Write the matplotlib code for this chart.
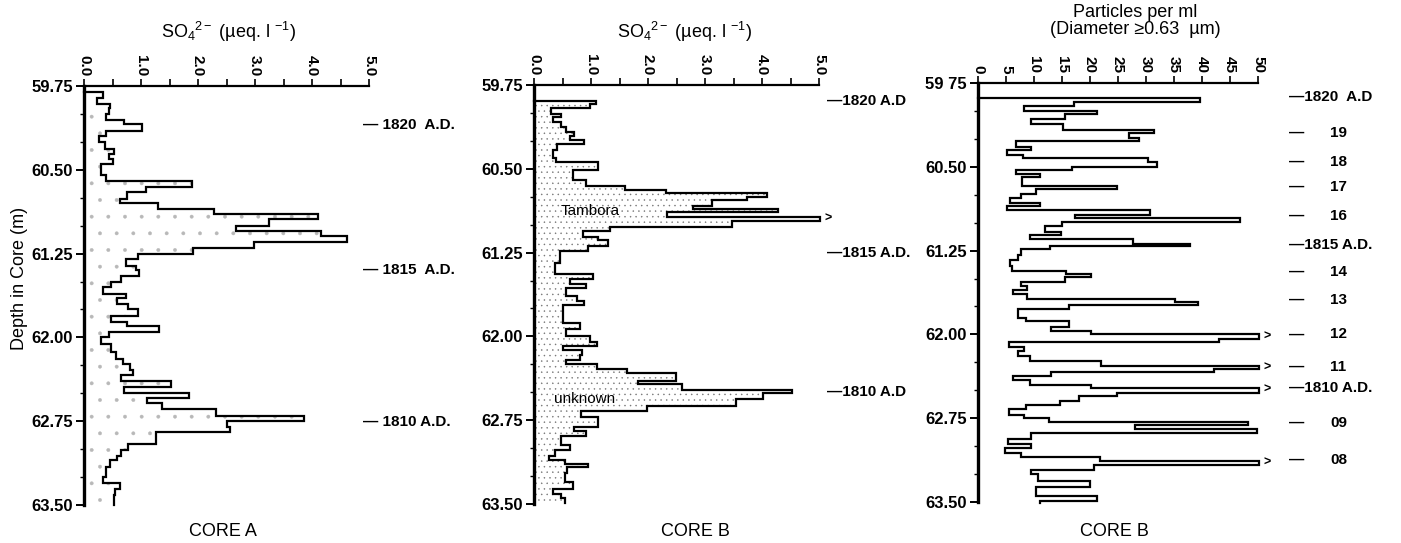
import numpy as np
import matplotlib
matplotlib.use("Agg")
import matplotlib.pyplot as plt
from matplotlib.ticker import FixedLocator, MultipleLocator

plt.rcParams["font.family"] = ["Liberation Sans", "DejaVu Sans"]
plt.rcParams["mathtext.fontset"] = "custom"
plt.rcParams["mathtext.rm"] = "Liberation Sans"
plt.rcParams["mathtext.it"] = "Liberation Sans:italic"
plt.rcParams["mathtext.bf"] = "Liberation Sans:bold"
plt.rcParams["hatch.linewidth"] = 0.3

# ---- Core A, sulphate (ueq/l): depth edges (m) and one value per interval
edges_A = [59.80, 59.86, 59.91, 59.95, 60.00, 60.05, 60.09, 60.15, 60.20, 60.25,
           60.31, 60.36, 60.40, 60.45, 60.55, 60.60, 60.65, 60.70, 60.76, 60.80,
           60.85, 60.90, 60.94, 61.00, 61.05, 61.09, 61.15, 61.20, 61.25, 61.30,
           61.36, 61.40, 61.45, 61.50, 61.55, 61.61, 61.65, 61.70, 61.75, 61.81,
           61.86, 61.90, 61.95, 62.00, 62.06, 62.13, 62.19, 62.24, 62.29, 62.34,
           62.39, 62.44, 62.50, 62.54, 62.59, 62.64, 62.70, 62.75, 62.80, 62.85,
           62.95, 63.01, 63.06, 63.10, 63.16, 63.25, 63.30, 63.36, 63.41, 63.46,
           63.50]
so4_A = [0.33, 0.23, 0.46, 0.43, 0.39, 0.70, 1.02, 0.39, 0.26, 0.36,
         0.53, 0.44, 0.51, 0.30, 0.39, 1.90, 1.08, 0.76, 0.63, 1.30,
         2.28, 4.11, 3.25, 2.66, 4.15, 4.62, 2.98, 1.92, 0.94, 0.73,
         0.92, 0.96, 0.65, 0.47, 0.33, 0.73, 0.58, 0.78, 0.95, 0.48,
         0.76, 1.31, 0.43, 0.30, 0.48, 0.57, 0.68, 0.80, 0.86, 0.65,
         1.52, 0.70, 1.85, 1.11, 1.37, 2.31, 3.86, 2.50, 2.57, 1.27,
         0.77, 0.65, 0.58, 0.45, 0.39, 0.33, 0.63, 0.54, 0.53, 0.53]

# ---- Core B, sulphate (ueq/l); 5.10 = beyond the 5.0 scale
edges_B = [59.89, 59.92, 59.96, 60.01, 60.04, 60.08, 60.13, 60.17, 60.21, 60.24,
           60.28, 60.33, 60.40, 60.44, 60.51, 60.60, 60.65, 60.69, 60.72, 60.75,
           60.78, 60.83, 60.86, 60.89, 60.93, 60.97, 61.02, 61.06, 61.11, 61.14,
           61.19, 61.24, 61.34, 61.44, 61.49, 61.53, 61.57, 61.64, 61.68, 61.72,
           61.88, 61.93, 62.00, 62.05, 62.09, 62.12, 62.17, 62.21, 62.25, 62.29,
           62.33, 62.40, 62.43, 62.48, 62.51, 62.56, 62.62, 62.67, 62.72, 62.81,
           62.85, 62.89, 62.97, 63.02, 63.07, 63.11, 63.14, 63.17, 63.22, 63.30,
           63.37, 63.41, 63.45, 63.49]
so4_B = [1.09, 0.98, 0.30, 0.48, 0.33, 0.48, 0.56, 0.70, 0.64, 0.88,
         0.41, 0.33, 0.39, 1.12, 0.68, 0.92, 1.59, 2.31, 4.08, 3.73,
         3.13, 2.79, 4.28, 2.34, 5.10, 3.47, 1.33, 0.86, 1.13, 1.29,
         0.95, 0.45, 0.36, 1.04, 0.63, 0.92, 0.57, 0.75, 0.87, 0.51,
         0.81, 0.57, 0.98, 1.10, 0.50, 0.84, 0.80, 0.57, 1.10, 1.63,
         2.49, 1.83, 2.59, 4.53, 4.01, 3.54, 1.98, 0.82, 1.12, 0.71,
         0.92, 0.48, 0.63, 0.36, 0.27, 0.55, 0.95, 0.58, 0.55, 0.68,
         0.33, 0.48, 0.54]

# ---- Core B, particles per ml (d >= 0.63 um); 51 = beyond the 50 scale
edges_C = [59.88, 59.92, 59.96, 60.00, 60.03, 60.07, 60.12, 60.17, 60.20, 60.24,
           60.27, 60.32, 60.35, 60.39, 60.42, 60.46, 60.50, 60.53, 60.56, 60.59,
           60.67, 60.70, 60.74, 60.78, 60.82, 60.85, 60.89, 60.93, 60.96, 60.99,
           61.03, 61.08, 61.11, 61.15, 61.19, 61.21, 61.24, 61.29, 61.33, 61.39,
           61.43, 61.46, 61.49, 61.53, 61.57, 61.60, 61.64, 61.68, 61.71, 61.74,
           61.77, 61.85, 61.88, 61.93, 61.97, 62.00, 62.04, 62.07, 62.11, 62.15,
           62.19, 62.24, 62.28, 62.31, 62.34, 62.37, 62.41, 62.45, 62.48, 62.52,
           62.55, 62.60, 62.63, 62.67, 62.72, 62.75, 62.78, 62.81, 62.85, 62.88,
           62.94, 62.98, 63.02, 63.06, 63.10, 63.13, 63.17, 63.21, 63.25, 63.31,
           63.37, 63.45, 63.49, 63.51]
part_C = [39.6, 17.2, 8.2, 21.3, 15.6, 9.4, 15.2, 31.4, 26.9, 28.8,
          6.7, 9.5, 5.1, 8.0, 30.3, 31.9, 16.8, 6.7, 11.1, 7.9,
          24.9, 10.3, 7.6, 5.8, 11.0, 5.2, 30.8, 17.3, 46.8, 15.0,
          11.9, 14.9, 9.2, 27.7, 37.8, 12.9, 7.7, 7.1, 5.8, 6.1,
          15.8, 20.2, 15.5, 7.6, 8.8, 6.2, 8.8, 35.2, 39.3, 16.2,
          7.1, 8.5, 16.2, 13.1, 20.1, 51.0, 43.0, 5.6, 8.3, 7.1,
          9.2, 22.0, 51.0, 42.1, 13.1, 6.2, 9.2, 20.1, 51.0, 24.9,
          18.0, 14.6, 8.6, 5.5, 8.3, 12.6, 48.3, 28.0, 49.9, 9.4,
          5.4, 9.5, 4.9, 7.7, 21.7, 51.0, 20.7, 9.5, 10.7, 20.0,
          10.4, 21.2, 11.1]

depth_ticks = [59.75, 60.50, 61.25, 62.00, 62.75, 63.50]
depth_labels = ["59.75", "60.50", "61.25", "62.00", "62.75", "63.50"]
depth_labels_C = ["59 75", "60.50", "61.25", "62.00", "62.75", "63.50"]

dates_A_depth = [60.10, 61.40, 62.76]
dates_A_text = ["\u2014 1820  A.D.", "\u2014 1815  A.D.", "\u2014 1810 A.D."]
dates_B_depth = [59.89, 61.25, 62.50]
dates_B_text = ["\u20141820 A.D", "\u20141815 A.D.", "\u20141810 A.D"]
dates_C_depth = [59.875, 60.197, 60.457, 60.68, 60.94, 61.20, 61.44,
                 61.69, 62.00, 62.29, 62.48, 62.79, 63.12]
dates_C_text = ["1820  A.D", "19", "18", "17", "16", "1815 A.D.", "14",
                "13", "12", "11", "1810 A.D.", "09", "08"]

W, H = 1401, 543
fig = plt.figure(figsize=(W / 100, H / 100), dpi=100)


def px_axes(x0, x1, y0, y1):
    return fig.add_axes([x0 / W, 1 - y1 / H, (x1 - x0) / W, (y1 - y0) / H])


def style(ax, xmax, step, labelled, ylabels):
    ax.set_xlim(0, xmax)
    ax.set_ylim(63.50, 59.75)
    ax.xaxis.tick_top()
    for s in ("right", "bottom"):
        ax.spines[s].set_visible(False)
    ax.spines["left"].set_linewidth(2.4)
    ax.spines["top"].set_linewidth(1.6)
    ticks = np.arange(0, xmax + step / 2, step)
    ax.xaxis.set_major_locator(FixedLocator(ticks))
    ax.set_xticklabels([labelled(t) for t in ticks])
    ax.tick_params(axis="x", labelrotation=270, length=5, width=1.2,
                   direction="out", pad=2, labelsize=11)
    for lab in ax.get_xticklabels():
        lab.set_fontweight("bold")
    ax.yaxis.set_major_locator(FixedLocator(depth_ticks))
    ax.yaxis.set_minor_locator(MultipleLocator(0.25))
    ax.set_yticklabels(ylabels)
    ax.tick_params(axis="y", which="major", length=6, width=1.4, pad=2,
                   labelsize=12)
    ax.tick_params(axis="y", which="minor", length=3, width=1.0)
    for lab in ax.get_yticklabels():
        lab.set_fontweight("bold")


def profile(ax, edges, values, xmax, hatch=None, hatch_color="0.4"):
    edges = np.asarray(edges, float)
    values = np.asarray(values, float)
    shown = np.minimum(values, xmax * 1.005)
    y = np.concatenate([[edges[0]], np.column_stack([edges[:-1], edges[1:]]).ravel()])
    x = np.concatenate([[0.0], np.repeat(shown, 2)])
    if hatch:
        ax.fill_betweenx(y, 0, x, facecolor="none", edgecolor=hatch_color,
                         hatch=hatch, linewidth=0)
    ax.plot(x, y, color="black", lw=1.6, clip_on=False, solid_joinstyle="miter")
    mids = (edges[:-1] + edges[1:]) / 2
    for v, m in zip(values, mids):
        if v > xmax:
            ax.text(xmax * 1.018, m, ">", va="center", ha="left",
                    fontsize=9, fontweight="bold", clip_on=False)


def dates(ax, depths, texts, x):
    tr = ax.get_yaxis_transform()
    for d, t in zip(depths, texts):
        ax.text(x, d, t, transform=tr, va="center", ha="left",
                fontsize=11, fontweight="bold", clip_on=False)


so4_title = "SO$_4$$^{2-}$ (\u00b5eq. l $^{-1}$)"

# Panel A
axA = px_axes(84, 369, 86, 505)
style(axA, 5.0, 0.5, lambda t: f"{t:.1f}" if abs(t - round(t)) < 1e-6 else "", depth_labels)
profile(axA, edges_A, so4_A, 5.0, hatch=".", hatch_color="0.72")
dates(axA, dates_A_depth, dates_A_text, 0.979)
fig.text(229 / W, 1 - 32 / H, so4_title, ha="center", va="center", fontsize=13)
fig.text(223 / W, 1 - 531 / H, "CORE A", ha="center", va="center", fontsize=13)
fig.text(20 / W, 1 - 278 / H, "Depth in Core (m)", ha="center", va="center",
         rotation=90, fontsize=13)

# Panel B
axB = px_axes(534, 819, 85, 504)
style(axB, 5.0, 0.5, lambda t: f"{t:.1f}" if abs(t - round(t)) < 1e-6 else "", depth_labels)
profile(axB, edges_B, so4_B, 5.0, hatch="...", hatch_color="0.45")
dates(axB, dates_B_depth, dates_B_text, 1.027)
axB.text(0.46, 60.88, "Tambora", fontsize=11, va="center", ha="left")
axB.text(0.35, 62.56, "unknown", fontsize=11, va="center", ha="left")
fig.text(685 / W, 1 - 32 / H, so4_title, ha="center", va="center", fontsize=13)
fig.text(695 / W, 1 - 531 / H, "CORE B", ha="center", va="center", fontsize=13)

# Panel C
axC = px_axes(978, 1258, 83, 502)
style(axC, 50, 5, lambda t: f"{t:.0f}", depth_labels_C)
profile(axC, edges_C, part_C, 50)
trC = axC.get_yaxis_transform()
for d, t in zip(dates_C_depth, dates_C_text):
    if "A.D" in t:
        axC.text(1.111, d, "\u2014" + t, transform=trC, va="center", ha="left",
                 fontsize=11, fontweight="bold", clip_on=False)
    else:
        axC.text(1.111, d, "\u2014", transform=trC, va="center", ha="left",
                 fontsize=11, fontweight="bold", clip_on=False)
        axC.text(1.257, d, t, transform=trC, va="center", ha="left",
                 fontsize=11, fontweight="bold", clip_on=False)
fig.text(1135 / W, 1 - 21 / H, "Particles per ml\n(Diameter \u22650.63  \u00b5m)",
         ha="center", va="center", fontsize=13, linespacing=0.95)
fig.text(1114 / W, 1 - 531 / H, "CORE B", ha="center", va="center", fontsize=13)

fig.savefig("out.png", dpi=100, facecolor="white")
